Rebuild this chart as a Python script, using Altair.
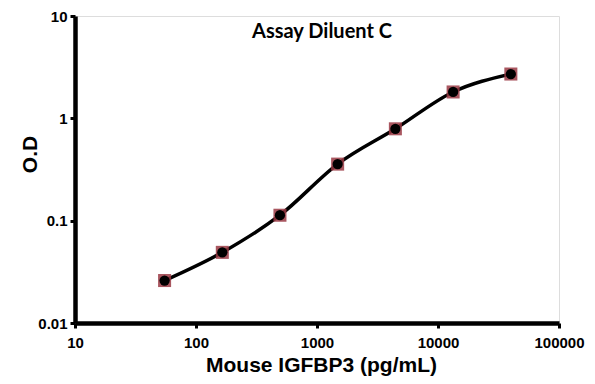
import altair as alt
import pandas as pd

conc = [55, 165, 494, 1481, 4444, 13333, 40000]
od = [0.026, 0.049, 0.113, 0.357, 0.79, 1.81, 2.71]
title_text = ["Assay Diluent C"]

df = pd.DataFrame({"conc": conc, "od": od})

xs = alt.Scale(type="log", domain=[10, 100000])
ys = alt.Scale(type="log", domain=[0.01, 10])

xax = alt.Axis(values=[10, 100, 1000, 10000, 100000], format="d", grid=False,
               domainWidth=4.5, domainColor="black", tickWidth=3, tickColor="black", tickSize=5,
               labelFont="Liberation Sans", labelFontWeight="bold", labelFontSize=15,
               labelColor="black", labelPadding=7, labelFlush=False,
               title="Mouse IGFBP3 (pg/mL)", titleFont="Liberation Sans", titleFontWeight="bold",
               titleFontSize=21, titleColor="black",
               titleX=246, titleY=42, titleBaseline="middle", titleAlign="center")
yax = alt.Axis(values=[0.01, 0.1, 1, 10], grid=False, labelExpr="datum.label",
               domainWidth=4.5, domainColor="black", tickWidth=3, tickColor="black", tickSize=5,
               labelFont="Liberation Sans", labelFontWeight="bold", labelFontSize=15,
               labelColor="black", labelPadding=3, labelFlush=False,
               title="O.D", titleFont="Liberation Sans", titleFontWeight="bold",
               titleFontSize=21, titleColor="black",
               titleX=-45, titleY=138, titleBaseline="middle", titleAlign="center", titleAngle=270)

base = alt.Chart(df).encode(
    x=alt.X("conc:Q", scale=xs, axis=xax),
    y=alt.Y("od:Q", scale=ys, axis=yax),
)

line = base.mark_line(color="black", strokeWidth=3.5, interpolate="monotone")
sq = base.mark_square(color="#9a3a44", opacity=0.85, size=170)
dots = base.mark_circle(color="black", opacity=1, size=105)

title = alt.Chart(pd.DataFrame({"t": title_text})).mark_text(
    font="Lato", fontWeight="bold", fontSize=20, color="black"
).encode(text="t:N", x=alt.value(247), y=alt.value(16))

chart = alt.layer(line, sq, dots, title).properties(
    width=484, height=307,
    autosize=alt.AutoSizeParams(type="none"),
    padding={"left": 75, "top": 16, "right": 36, "bottom": 61},
).configure_view(stroke=None).configure(background="white")

chart.save("out.html", embed_options={"renderer": "svg", "actions": False})
